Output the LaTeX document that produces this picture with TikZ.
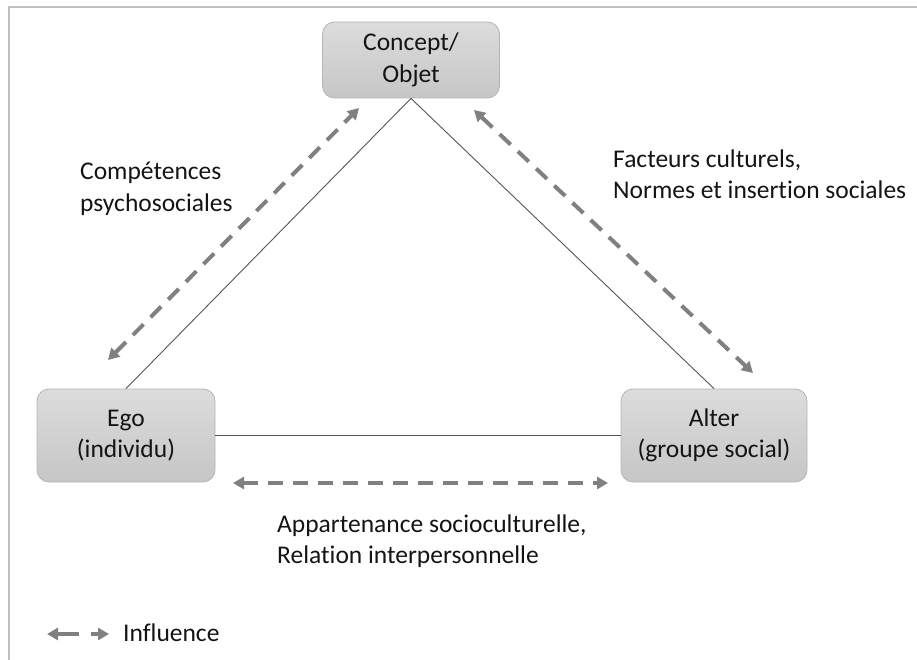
\documentclass[tikz,border=0pt]{standalone}
\usepackage{fontspec}
\setmainfont[Ligatures=NoCommon]{Carlito}
\usetikzlibrary{arrows.meta}
\definecolor{boxtop}{HTML}{DCDCDC}
\definecolor{boxbot}{HTML}{C6C6C6}
\definecolor{boxline}{HTML}{B4B4B4}
\definecolor{frameg}{HTML}{C0C0C0}
\definecolor{linkg}{HTML}{555555}
\definecolor{arrg}{HTML}{808080}
\definecolor{txt}{HTML}{141414}
\begin{document}
\begin{tikzpicture}[x=1pt,y=-1pt,
  every node/.style={font=\fontsize{25.5}{31.5}\selectfont, text=txt},
  boxnode/.style={draw=boxline, line width=0.8pt, rounded corners=12pt,
    top color=boxtop, bottom color=boxbot, align=center, inner sep=0pt},
  label/.style={align=left, anchor=west, inner sep=0pt},
  link/.style={draw=linkg, line width=0.9pt},
  influence/.style={draw=arrg, line width=4pt, dash pattern=on 15pt off 10pt,
    {Triangle[length=11pt,width=12pt]}-{Triangle[length=11pt,width=12pt]}}
  ]
\useasboundingbox (0,0) rectangle (917,660);
% frame (top and left edges)
\draw[frameg, line width=2pt] (9,660) -- (9,7) -- (917,7);

\node[boxnode, minimum width=177pt, minimum height=76pt] (concept) at (411,60) {Concept/\\Objet};
\node[boxnode, minimum width=178pt, minimum height=93pt] (ego) at (126,435.5) {Ego\\(individu)};
\node[boxnode, minimum width=186pt, minimum height=93pt] (alter) at (714,435.5) {Alter\\(groupe social)};

\draw[link] (concept.south) -- (ego.north);
\draw[link] (concept.south) -- (alter.north);
\draw[link] (ego.east) -- (alter.west);

\coordinate (lA) at (108,360);
\coordinate (lB) at (359,108);
\coordinate (rA) at (474,110);
\coordinate (rB) at (753,373);
\coordinate (hA) at (233,483);
\coordinate (hB) at (608,483);
\draw[influence] (lA) -- (lB);
\draw[influence] (rA) -- (rB);
\draw[influence] (hA) -- (hB);

\node[label] (comp) at (80,189) {Compétences\\psychosociales};
\node[label] (fact) at (613,174) {Facteurs culturels,\\Normes et insertion sociales};
\node[label] (appa) at (277,541) {Appartenance socioculturelle,\\Relation interpersonnelle};

\coordinate (gA) at (47,634);
\coordinate (gB) at (109,634);
\draw[draw=arrg, line width=4pt, dash pattern=on 22pt off 12pt,
  {Triangle[length=11pt,width=12pt]}-{Triangle[length=11pt,width=12pt]}] (gA) -- (gB);
\node[label] (infl) at (123,633) {Influence};
\end{tikzpicture}
\end{document}
